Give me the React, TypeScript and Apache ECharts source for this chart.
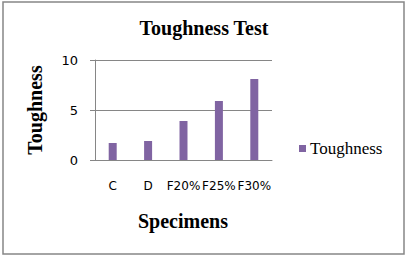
import React, { useEffect, useRef } from "react";
import * as echarts from "echarts";

const categories = ["C", "D", "F20%", "F25%", "F30%"];
const toughness = [1.7, 1.9, 3.9, 5.9, 8.1];
const yTicks = { min: 0, max: 10, interval: 5 };
const titleText = "Toughness Test";
const xName = "Specimens";
const yName = "Toughness";
const seriesName = "Toughness";

export default function App() {
  const ref = useRef<HTMLDivElement>(null);
  useEffect(() => {
    document.body.style.margin = "0";
    const chart = echarts.init(ref.current!, undefined, { renderer: "svg" });
    const serif = "'Liberation Serif', 'Times New Roman', serif";
    const bold = {
      fontFamily: serif,
      fontWeight: "bold",
      fontSize: 20,
      fill: "#000",
      align: "center",
      verticalAlign: "middle",
    };
    chart.setOption({
      animation: false,
      backgroundColor: "#ffffff",
      legend: {
        data: [seriesName],
        left: 299,
        top: 140,
        padding: 0,
        itemWidth: 7,
        itemHeight: 7,
        itemGap: 4,
        icon: "rect",
        textStyle: { fontFamily: serif, fontSize: 17, color: "#000", padding: [0, 0, 0, -1] },
      },
      grid: { left: 95, top: 60, width: 177, height: 100, containLabel: false },
      xAxis: {
        type: "category",
        data: categories,
        axisLine: { lineStyle: { color: "#868686", width: 1 } },
        axisTick: { show: false },
        axisLabel: {
          interval: 0,
          hideOverlap: false,
          margin: 20,
          fontFamily: "'DejaVu Sans', sans-serif",
          fontSize: 12,
          color: "#000",
        },
      },
      yAxis: {
        type: "value",
        min: yTicks.min,
        max: yTicks.max,
        interval: yTicks.interval,
        axisLine: { show: true, lineStyle: { color: "#868686", width: 1 } },
        axisTick: { show: true, length: 5, lineStyle: { color: "#868686" } },
        splitLine: { lineStyle: { color: "#868686", width: 1 } },
        axisLabel: {
          margin: 17,
          fontFamily: "'DejaVu Sans', sans-serif",
          fontSize: 13,
          color: "#000",
        },
      },
      series: [
        {
          name: seriesName,
          type: "bar",
          data: toughness,
          barWidth: 8,
          itemStyle: { color: "#8064A2" },
        },
      ],
      graphic: [
        {
          type: "rect",
          shape: { x: 3, y: 2, width: 401, height: 252 },
          style: { fill: "none", stroke: "#868686", lineWidth: 1.5 },
          silent: true,
        },
        {
          type: "text",
          x: 204,
          y: 28,
          style: { ...bold, text: titleText },
        },
        {
          type: "text",
          x: 35,
          y: 110,
          rotation: Math.PI / 2,
          style: { ...bold, text: yName },
        },
        {
          type: "text",
          x: 183,
          y: 221,
          style: { ...bold, text: xName },
        },
      ],
    });
    return () => chart.dispose();
  }, []);
  return (
    <div
      ref={ref}
      style={{ position: "fixed", left: 0, top: 0, width: 408, height: 258 }}
    />
  );
}
